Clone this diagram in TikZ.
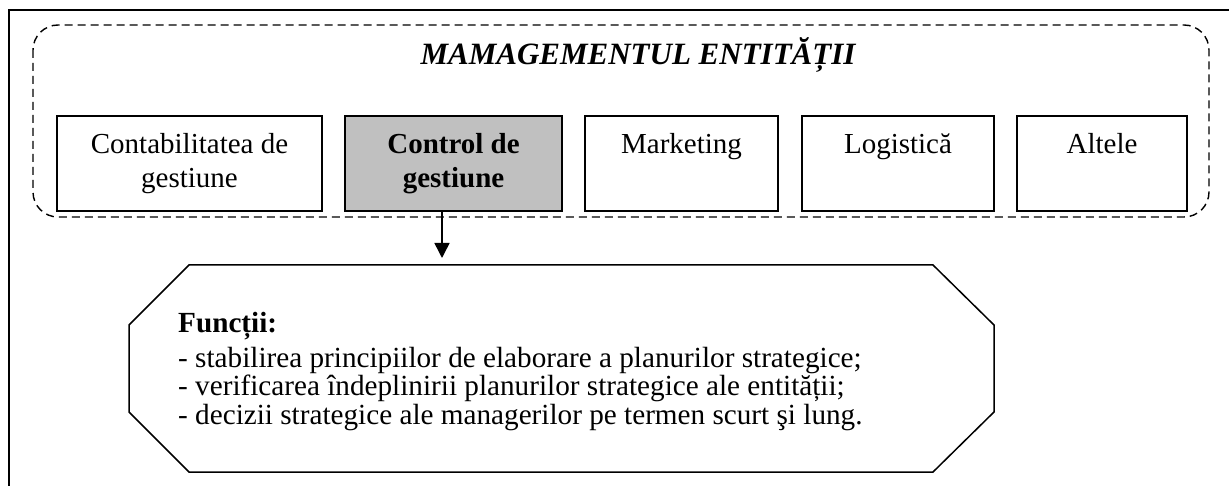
\documentclass[tikz,border=0pt]{standalone}
\usepackage{fontspec}
\setmainfont{Liberation Serif}
\usetikzlibrary{arrows.meta}
\definecolor{boxgray}{RGB}{192,192,192}
\begin{document}
\begin{tikzpicture}[x=1pt,y=-1pt,
  frameline/.style={line width=1.7pt},
  dashframe/.style={line width=1.4pt, dash pattern=on 8pt off 5pt, rounded corners=25pt},
  box/.style={draw, line width=1.5pt, minimum height=95pt, inner sep=0pt, align=center,
    font=\fontsize{29}{34}\selectfont},
  graybox/.style={box, fill=boxgray},
  octline/.style={line width=1.5pt, line join=miter},
  arrowline/.style={line width=1.5pt, -{Triangle[length=15pt,width=15pt]}},
  titlefont/.style={font=\fontsize{31}{36}\selectfont\bfseries\itshape},
  ]
\useasboundingbox (0,0) rectangle (1229,486);
% outer frame
\draw[frameline] (9,486) -- (9,10) -- (1229,10);
% dashed management frame
\draw[dashframe] (33,25) rectangle (1209,217);
% title
\node[titlefont, anchor=base, inner sep=0pt] (title) at (638,65) {MAMAGEMENTUL ENTITĂȚII};
% boxes
\node[box, minimum width=265pt] (b1) at (189.5,163.5) {\strut Contabilitatea de\\gestiune\strut};
\node[graybox, minimum width=217pt] (b2) at (453.5,163.5) {\strut\textbf{Control de}\\\textbf{gestiune}\strut};
\node[box, minimum width=193pt] (b3) at (681.5,163.5) {\strut Marketing\\\strut};
\node[box, minimum width=192pt] (b4) at (898,163.5) {\strut Logistică\\\strut};
\node[box, minimum width=170pt] (b5) at (1102,163.5) {\strut Altele\\\strut};
% arrow
\coordinate (atip) at (442,258);
\draw[arrowline] (b2.south -| atip) -- (atip);
% octagon
\draw[octline] (189,265) -- (933,265) -- (994,325) -- (994,412) -- (933,472)
  -- (189,472) -- (129,412) -- (129,325) -- cycle;
\node[anchor=north west, align=left, inner sep=0pt, font=\fontsize{29.2}{28.3}\selectfont] (fn) at (178,312)
  {\rule{0pt}{20pt}\textbf{Funcții:}\\[6.7pt]
   - stabilirea principiilor de elaborare a planurilor strategice;\\
   - verificarea îndeplinirii planurilor strategice ale entității;\\
   - decizii strategice ale managerilor pe termen scurt şi lung.};
\end{tikzpicture}
\end{document}
